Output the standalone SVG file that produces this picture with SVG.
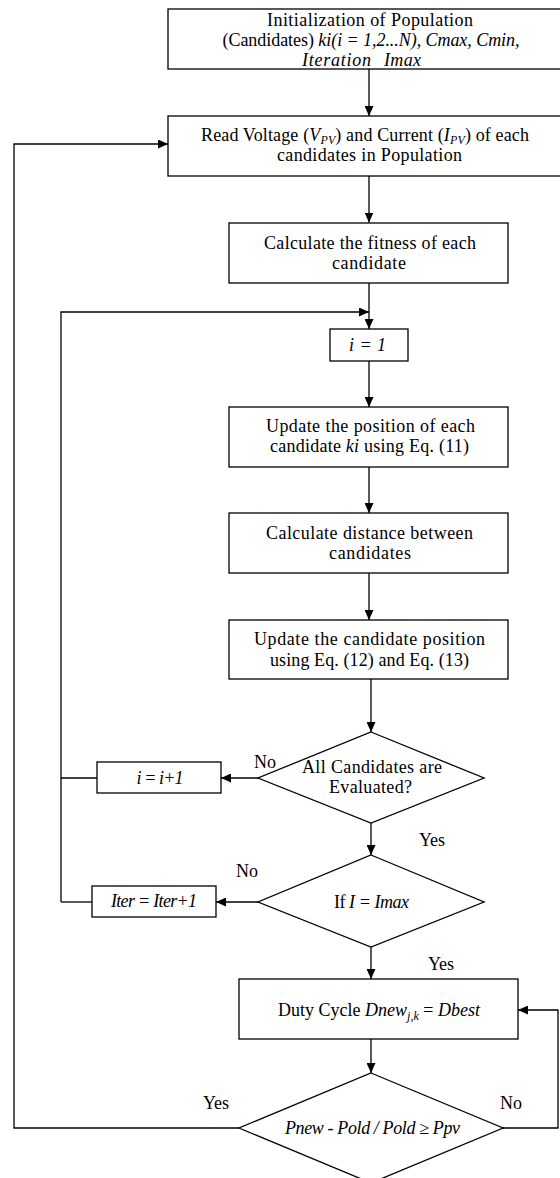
<svg xmlns="http://www.w3.org/2000/svg" width="560" height="1178" viewBox="0 0 560 1178">
<style>
.box{fill:#fff;stroke:#000;stroke-width:1.3}
.ln{fill:none;stroke:#000;stroke-width:1.3}
text{font-family:"Liberation Serif","Times New Roman",serif;font-size:18px;fill:#000;text-anchor:middle}
.i{font-style:italic}
.sub{font-size:12px;font-style:italic}
</style>
<defs>
<marker id="ah" markerUnits="userSpaceOnUse" markerWidth="10" markerHeight="9" refX="10" refY="4.5" orient="auto">
<path d="M0,0 L10,4.5 L0,9 z" fill="#000"/>
</marker>
</defs>
<rect width="560" height="1178" fill="#fff"/>
<g id="connectors">
<line class="ln" x1="369" y1="69" x2="369" y2="116" marker-end="url(#ah)"/>
<line class="ln" x1="369" y1="176" x2="369" y2="222.5" marker-end="url(#ah)"/>
<line class="ln" x1="369" y1="283" x2="369" y2="329" marker-end="url(#ah)"/>
<polyline class="ln" points="61,902 61,312 369,312" marker-end="url(#ah)"/>
<line class="ln" x1="369" y1="361" x2="369" y2="407" marker-end="url(#ah)"/>
<line class="ln" x1="369" y1="467" x2="369" y2="513" marker-end="url(#ah)"/>
<line class="ln" x1="369" y1="573" x2="369" y2="620" marker-end="url(#ah)"/>
<line class="ln" x1="371" y1="679" x2="371" y2="732" marker-end="url(#ah)"/>
<line class="ln" x1="258" y1="778" x2="221" y2="778" marker-end="url(#ah)"/>
<line class="ln" x1="97" y1="778" x2="61" y2="778"/>
<line class="ln" x1="371" y1="823" x2="371" y2="855" marker-end="url(#ah)"/>
<line class="ln" x1="258" y1="902" x2="216" y2="902" marker-end="url(#ah)"/>
<line class="ln" x1="92" y1="902" x2="61" y2="902"/>
<line class="ln" x1="371" y1="947" x2="371" y2="979" marker-end="url(#ah)"/>
<line class="ln" x1="371" y1="1039" x2="371" y2="1073" marker-end="url(#ah)"/>
<polyline class="ln" points="239,1128 14,1128 14,144 168,144" marker-end="url(#ah)"/>
<polyline class="ln" points="503,1128 558,1128 558,1010 518,1010" marker-end="url(#ah)"/>
<text x="265" y="768">No</text>
<text x="432" y="846">Yes</text>
<text x="247" y="877">No</text>
<text x="441" y="970">Yes</text>
<text x="216" y="1109">Yes</text>
<text x="511" y="1109">No</text>
</g>
<g id="init">
<rect class="box" x="168" y="9" width="404" height="60"/>
<text x="370" y="26" textLength="206">Initialization of Population</text>
<text x="371" y="46" textLength="297">(Candidates) <tspan class="i">ki(i = 1,2...N), Cmax, Cmin,</tspan></text>
<text x="336.5" y="66" class="i" textLength="69">Iteration</text>
<text x="402.5" y="66" class="i" textLength="37">Imax</text>
</g>
<g id="read">
<rect class="box" x="168" y="116" width="404" height="60"/>
<text x="365" y="141" textLength="328">Read Voltage (<tspan class="i">V</tspan><tspan class="sub" dy="3">PV</tspan><tspan dy="-3">) and Current (</tspan><tspan class="i">I</tspan><tspan class="sub" dy="3">PV</tspan><tspan dy="-3">) of each</tspan></text>
<text x="369.5" y="161" textLength="185">candidates in Population</text>
</g>
<g id="fitness">
<rect class="box" x="229" y="223" width="279" height="60"/>
<text x="370" y="249" textLength="212">Calculate the fitness of each</text>
<text x="369" y="269" textLength="74">candidate</text>
</g>
<g id="i1">
<rect class="box" x="330" y="329" width="78" height="32"/>
<text x="367.5" y="351" class="i" textLength="37">i = 1</text>
</g>
<g id="update">
<rect class="box" x="229" y="407" width="279" height="60"/>
<text x="370.5" y="432" textLength="209">Update the position of each</text>
<text x="369.5" y="452" textLength="199">candidate <tspan class="i">ki</tspan> using Eq. (11)</text>
</g>
<g id="distance">
<rect class="box" x="229" y="513" width="279" height="60"/>
<text x="369.5" y="539" textLength="207">Calculate distance between</text>
<text x="370" y="559" textLength="82">candidates</text>
</g>
<g id="update2">
<rect class="box" x="229" y="620" width="279" height="59"/>
<text x="369.5" y="645" textLength="231">Update the candidate position</text>
<text x="369.5" y="666" textLength="199">using Eq. (12) and Eq. (13)</text>
</g>
<g id="allEval">
<polygon class="box" points="371,732 484,778 371,823 258,778"/>
<text x="372" y="773" textLength="140">All Candidates are</text>
<text x="370.5" y="793" textLength="83">Evaluated?</text>
</g>
<g id="inc_i">
<rect class="box" x="97" y="762" width="124" height="31"/>
<text x="160" y="784" class="i" textLength="47">i = i+1</text>
</g>
<g id="imax">
<polygon class="box" points="371,855 484,902 371,947 258,902"/>
<text x="371.5" y="908" textLength="75">If <tspan class="i">I = Imax</tspan></text>
</g>
<g id="inc_iter">
<rect class="box" x="92" y="886" width="124" height="31"/>
<text x="154" y="907" class="i" textLength="86">Iter = Iter+1</text>
</g>
<g id="duty">
<rect class="box" x="239" y="979" width="279" height="60"/>
<text x="379" y="1016" textLength="202">Duty Cycle <tspan class="i">Dnew</tspan><tspan class="sub" dy="4">j,k</tspan><tspan dy="-4"> = </tspan><tspan class="i">Dbest</tspan></text>
</g>
<g id="power">
<polygon class="box" points="371,1073 503,1128 371,1183 239,1128"/>
<text x="372.5" y="1134" class="i" textLength="175">Pnew - Pold / Pold ≥ Ppv</text>
</g>
</svg>
